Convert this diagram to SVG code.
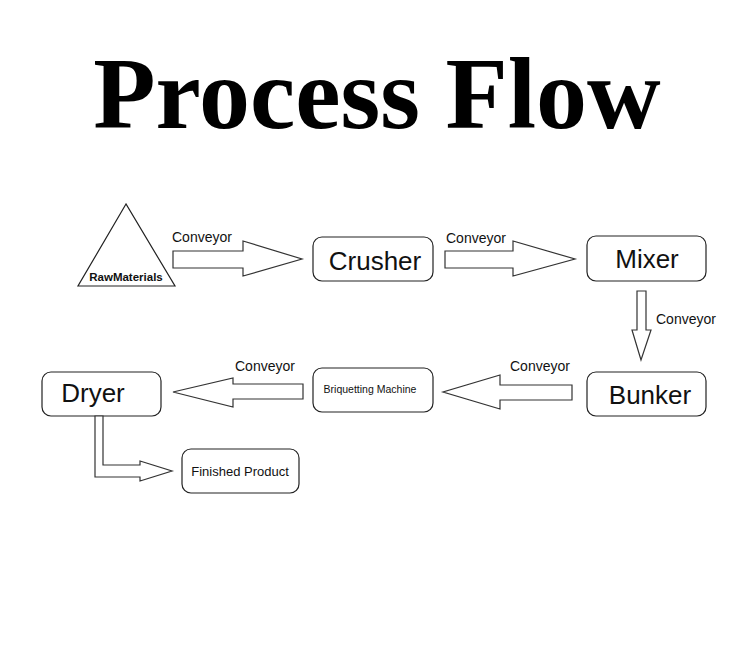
<svg xmlns="http://www.w3.org/2000/svg" width="750" height="654" viewBox="0 0 750 654">
<style>
.b{fill:#fff;stroke:#222;stroke-width:1.2}
.a{fill:#fff;stroke:#333;stroke-width:1.2}
.t{font-family:"Liberation Sans",Arial,sans-serif;fill:#111}
</style>
<rect width="750" height="654" fill="#fff"/>
<text x="377" y="128" text-anchor="middle" font-family="Liberation Serif,serif" font-weight="bold" font-size="102" fill="#000">Process Flow</text>
<g id="raw"><polygon class="b" points="126,204 78,286 175,286"/><text class="t" x="126" y="281" font-size="11.5" font-weight="bold" text-anchor="middle">RawMaterials</text></g>
<g id="crusher"><rect class="b" x="313" y="237" width="120" height="44" rx="9"/><text class="t" x="375" y="270" font-size="26" text-anchor="middle">Crusher</text></g>
<g id="mixer"><rect class="b" x="587" y="236" width="119" height="45" rx="9"/><text class="t" x="647" y="268" font-size="26" text-anchor="middle">Mixer</text></g>
<g id="bunker"><rect class="b" x="587" y="372" width="119" height="44" rx="9"/><text class="t" x="650" y="404" font-size="26" text-anchor="middle">Bunker</text></g>
<g id="briq"><rect class="b" x="313" y="368" width="120" height="44" rx="9"/><text class="t" x="370" y="393" font-size="10.5" text-anchor="middle">Briquetting Machine</text></g>
<g id="dryer"><rect class="b" x="42" y="372" width="119" height="44" rx="9"/><text class="t" x="93" y="402" font-size="26" text-anchor="middle">Dryer</text></g>
<g id="finished"><rect class="b" x="182" y="449" width="117" height="44" rx="9"/><text class="t" x="240" y="476" font-size="13" text-anchor="middle">Finished Product</text></g>
<g id="connectors">
<polygon class="a" points="173,251 243,251 243,241 302,259 243,276 243,268 173,268"/>
<text class="t" x="172" y="242" font-size="14">Conveyor</text>
<polygon class="a" points="445,251 513,251 513,241 575,259 513,276 513,268 445,268"/>
<text class="t" x="446" y="243" font-size="14">Conveyor</text>
<polygon class="a" points="637,291 646,291 646,330 651,330 641,360 632,330 637,330"/>
<text class="t" x="656" y="324" font-size="14">Conveyor</text>
<polygon class="a" points="572,385 500,385 500,375 443,392 500,409 500,400 572,400"/>
<text class="t" x="510" y="371" font-size="14">Conveyor</text>
<polygon class="a" points="303,384 233,384 233,378 173,392 233,407 233,399 303,399"/>
<text class="t" x="235" y="371" font-size="14">Conveyor</text>
<polygon class="a" points="95,416 103,416 103,465 140,465 140,461 172,471 140,481 140,477 95,477"/>
</g>
</svg>
